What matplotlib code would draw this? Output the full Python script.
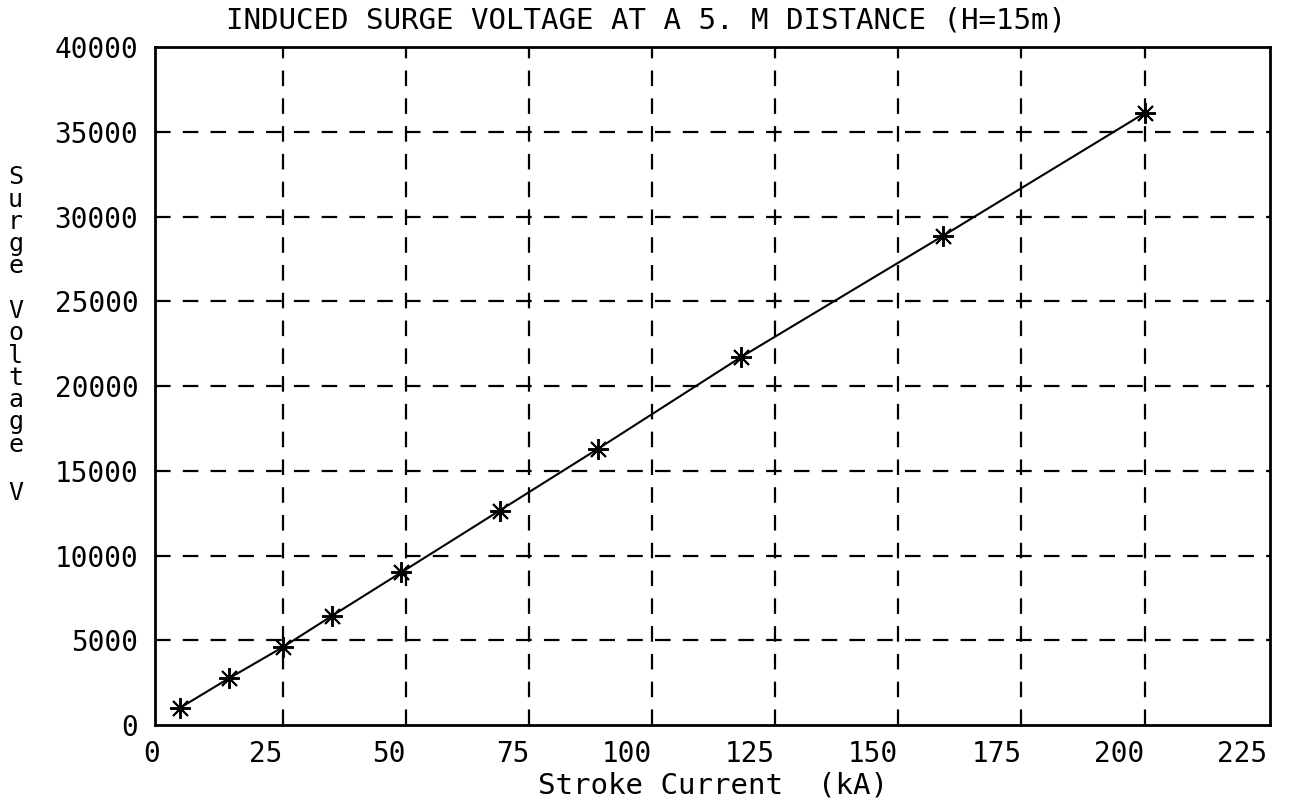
import numpy as np
import matplotlib
matplotlib.use("Agg")
import matplotlib.pyplot as plt

# stroke current (kA) and induced surge voltage (V)
current = [4, 14, 25, 35, 49, 69, 89, 118, 159, 200]
voltage = [1000, 2750, 4600, 6450, 9000, 12650, 16300, 21700, 28850, 36100]

x_ticks = [0, 25, 50, 75, 100, 125, 150, 175, 200, 225]
y_ticks = [0, 5000, 10000, 15000, 20000, 25000, 30000, 35000, 40000]

title = "INDUCED SURGE VOLTAGE AT A 5. M DISTANCE (H=15m)"
xlabel = "Stroke Current  (kA)"

font = ["DejaVu Sans Mono"]
plt.rcParams['font.family'] = font

fig = plt.figure(figsize=(13, 8.11), dpi=100)
ax = fig.add_axes([0.1192, 0.106, 0.8578, 0.836])

ax.set_xlim(-1, 225.5)
ax.set_ylim(0, 40000)

# dashed grid on the inner ticks only
dash = (7, 5.5)
ax.vlines(x_ticks[1:-1], 0, 40000, colors='black', linewidth=1.6,
          linestyles=[(0, dash)])
ax.hlines(y_ticks[1:-1], -1, 225.5, colors='black', linewidth=1.6,
          linestyles=[(0, dash)])

ax.plot(current, voltage, color='black', linewidth=1.5,
        marker=(8, 2, 0), markersize=15, markeredgewidth=1.4, zorder=3)

ax.set_xticks(x_ticks)
ax.set_yticks(y_ticks)
ax.set_xticklabels([str(v) for v in x_ticks], ha='right')
ax.tick_params(length=0, labelsize=20)
ax.tick_params(axis='x', pad=11)
ax.tick_params(axis='y', pad=12)

for s in ax.spines.values():
    s.set_linewidth(2)

ax.set_xlabel(xlabel, fontsize=21, labelpad=2)

fig.text(0.497, 0.975, title, ha='center', va='center', fontsize=21)

# stacked vertical y label
fig.text(0.012, 1 - 311 / 811, "S\nu\nr\ng\ne\n\nV\no\nl\nt\na\ng\ne",
         ha='center', va='center', fontsize=18, linespacing=0.91)
fig.text(0.012, 1 - 493 / 811, "V", ha='center', va='center', fontsize=18)

fig.savefig("out.png", dpi=100)
